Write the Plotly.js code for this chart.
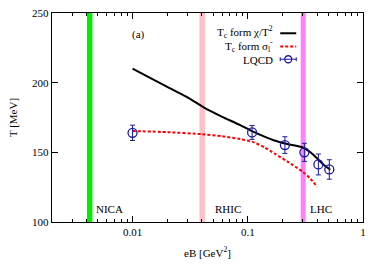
<!DOCTYPE html>
<html><head><meta charset="utf-8">
<script src="https://cdn.plot.ly/plotly-3.0.1.min.js"></script>
<style>html,body{margin:0;padding:0;background:#fff;}#chart{width:382px;height:267px;}</style>
</head><body><div id="chart"></div>
<script>
// Data
const chiEB = [0.01, 0.02, 0.03, 0.044, 0.06, 0.086, 0.11, 0.17, 0.22, 0.3, 0.35, 0.4, 0.45, 0.52];
const chiT  = [210, 197, 189.5, 181, 175.5, 169.5, 165, 158.5, 156, 153.5, 150, 145.6, 141.5, 137.5];
const sigEB = [0.01, 0.02, 0.04, 0.06, 0.086, 0.11, 0.14, 0.17, 0.22, 0.3, 0.35, 0.4];
const sigT  = [165.3, 164.5, 163, 161.5, 159.5, 157.5, 153.5, 149.2, 143.5, 136, 131, 125.3];
const lqcdEB = [0.01, 0.109, 0.21, 0.31, 0.41, 0.51];
const lqcdT  = [164, 164.3, 155.2, 150, 141.3, 137.7];
const lqcdErr = [5.5, 5, 6, 6.5, 7.5, 7];
const bandNames = ["NICA", "RHIC", "LHC"];
const bandLo = [0.00402, 0.0381, 0.288];
const bandHi = [0.00448, 0.0425, 0.318];
const bandColors = ["#00ee00", "#ffc0c8", "#ff80ff"];
const xTickVals = [0.01, 0.1, 1];
const xTickText = ["0.01", "0.1", "1"];
const xMinorVals = [0.002,0.003,0.004,0.005,0.006,0.007,0.008,0.009,0.02,0.03,0.04,0.05,0.06,0.07,0.08,0.09,0.2,0.3,0.4,0.5,0.6,0.7,0.8,0.9];
const yTickVals = [100, 150, 200, 250];

const font = {family: "Liberation Serif", size: 11, color: "#000"};
const traces = [];
for (let i = 0; i < bandLo.length; i++) {
  traces.push({x: [bandLo[i], bandHi[i], bandHi[i], bandLo[i], bandLo[i]], y: [100, 100, 250, 250, 100],
    mode: "lines", fill: "toself", fillcolor: bandColors[i], line: {width: 0, color: bandColors[i]},
    hoverinfo: "skip", showlegend: false});
}
traces.push({x: chiEB, y: chiT, mode: "lines", line: {color: "#000", width: 2, shape: "spline", smoothing: 0.6}, showlegend: false});
traces.push({x: sigEB, y: sigT, mode: "lines", line: {color: "#ff0000", width: 2, dash: "3px,2px", shape: "spline", smoothing: 0.6}, showlegend: false});
traces.push({x: lqcdEB, y: lqcdT, mode: "markers",
  marker: {symbol: "circle-open", size: 9, color: "#1a1aa0", line: {width: 1.3, color: "#1a1aa0"}},
  error_y: {type: "data", array: lqcdErr, visible: true, color: "#1a1aa0", thickness: 1, width: 2.5},
  showlegend: false});

const px = v => (v - 52) / 310.7;
const py = v => (222 - v) / 209.3;
const annotations = [
  {text: "(a)", x: px(138.5), y: py(34)},
  {text: bandNames[0], x: px(94), y: py(209), xanchor: "left"},
  {text: bandNames[1], x: px(212.7), y: py(209), xanchor: "left"},
  {text: bandNames[2], x: px(307.7), y: py(209), xanchor: "left"},
  {text: "T<sub>c</sub> form χ/T<sup>2</sup>", x: px(275), y: py(32), xanchor: "right"},
  {text: "T<sub>c</sub> form σ<sub>l</sub><sup>-</sup>", x: px(275), y: py(46), xanchor: "right"},
  {text: "LQCD", x: px(275), y: py(59.5), xanchor: "right"}
].map(a => Object.assign({xref: "paper", yref: "paper", showarrow: false, font: font, yanchor: "middle", xanchor: a.xanchor || "center"}, a));

const shapes = [
  {type: "line", xref: "paper", yref: "paper", x0: px(280), x1: px(296), y0: py(33), y1: py(33), line: {color: "#000", width: 2}},
  {type: "line", xref: "paper", yref: "paper", x0: px(280), x1: px(296), y0: py(46.3), y1: py(46.3), line: {color: "#ff0000", width: 2, dash: "3px,2px"}},
  {type: "line", xref: "paper", yref: "paper", x0: px(280), x1: px(296), y0: py(59), y1: py(59), line: {color: "#1a1aa0", width: 1}},
  {type: "line", xref: "paper", yref: "paper", x0: px(280), x1: px(280), y0: py(57), y1: py(61), line: {color: "#1a1aa0", width: 1}},
  {type: "line", xref: "paper", yref: "paper", x0: px(296), x1: px(296), y0: py(57), y1: py(61), line: {color: "#1a1aa0", width: 1}},
  {type: "circle", xref: "paper", yref: "paper", x0: px(284.5), x1: px(291.5), y0: py(62.5), y1: py(55.5), line: {color: "#1a1aa0", width: 1.3}, fillcolor: "rgba(0,0,0,0)"}
];

const layout = {
  width: 382, height: 267,
  margin: {l: 52, r: 19.3, t: 12.7, b: 45},
  paper_bgcolor: "#fff", plot_bgcolor: "#fff",
  font: font, showlegend: false,
  xaxis: {type: "log", range: [Math.log10(0.002), 0], tickvals: xTickVals, ticktext: xTickText,
    ticks: "inside", ticklen: 6, tickcolor: "#000", mirror: "allticks", showline: true, linecolor: "#000", linewidth: 1.2,
    showgrid: false, zeroline: false, tickfont: font,
    minor: {tickvals: xMinorVals, ticks: "inside", ticklen: 3, tickcolor: "#000", showgrid: false},
    title: {text: "eB [GeV<sup>2</sup>]", font: font, standoff: 11}},
  yaxis: {range: [100, 250], tickvals: yTickVals, ticks: "inside", ticklen: 6, tickcolor: "#000",
    mirror: "allticks", showline: true, linecolor: "#000", linewidth: 1.2, showgrid: false, zeroline: false, tickfont: font,
    title: {text: "T [MeV]", font: font, standoff: 12}},
  annotations: annotations, shapes: shapes
};
Plotly.newPlot("chart", traces, layout, {staticPlot: true, displayModeBar: false});
</script></body></html>
